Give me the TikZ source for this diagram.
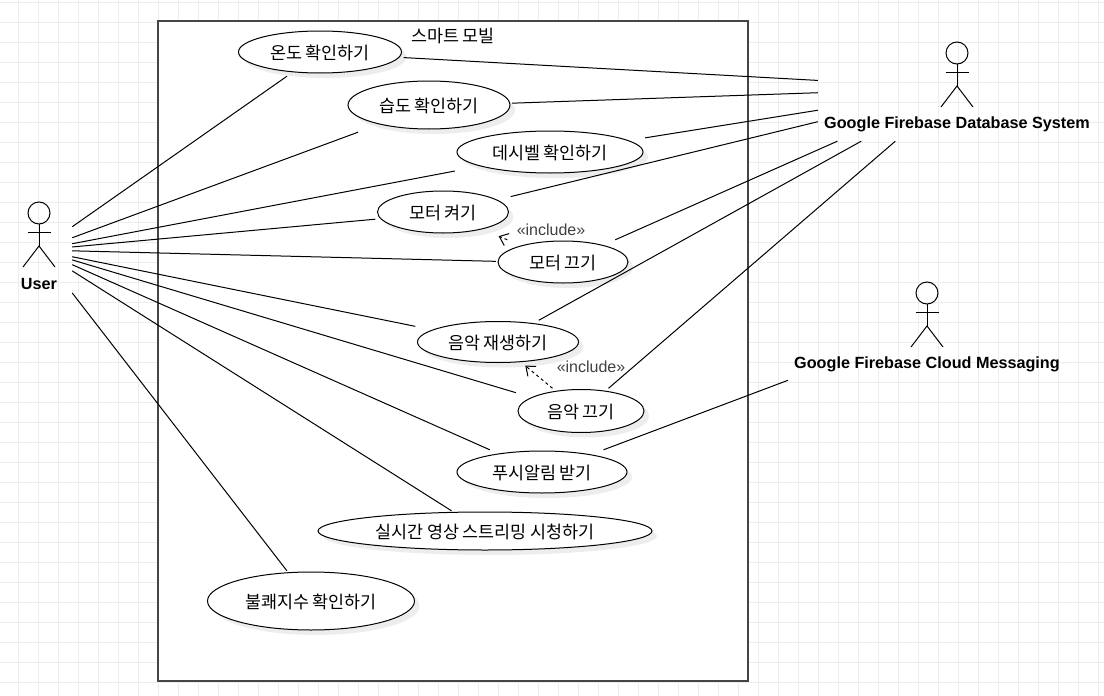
\documentclass[tikz,border=0pt]{standalone}
\usepackage{fontspec}
\usetikzlibrary{arrows.meta}
\usetikzlibrary{shadows}
\setmainfont{Liberation Sans}
\newfontfamily\krfont{Noto Sans CJK KR}
\definecolor{mgrid}{rgb}{0.93, 0.93, 0.93}
\definecolor{mframe}{rgb}{0.27, 0.27, 0.27}
\tikzset{
  casebox/.style = {inner sep = 0, font = \krfont\fontsize{17.4}{19}\selectfont},
  caseline/.style = {draw, fill = white, line width = 1pt,
    drop shadow = {shadow xshift = 5pt, shadow yshift = -5pt, opacity = 0.14}},
  actorbox/.style = {inner sep = 0, minimum width = 278, minimum height = 106},
  actorname/.style = {font = \bfseries\fontsize{16.2}{18}\selectfont},
  stick/.style = {line width = 1pt},
  assoc/.style = {line width = 1pt},
  incl/.style = {line width = 1pt, dashed, -{Straight Barb[length = 8pt, width = 13pt]}},
  stereo/.style = {text = black!75, font = \fontsize{16}{18}\selectfont}
}
\begin{document}
\begin{tikzpicture}[x=1pt, y=-1pt]
    \useasboundingbox (0, 0) rectangle (1104, 696);
    \foreach \x in {18,38,...,1098} {
      \draw [mgrid, line width=0.6pt] (\x, 0) -- (\x, 696);
    }
    \foreach \y in {2,22,...,682} {
      \draw [mgrid, line width=0.6pt] (0, \y) -- (1104, \y);
    }
    \draw [mframe, fill=white, line width=1.3pt] (158, 21) rectangle (748, 681);
    \node [inner sep=0, font=\krfont\fontsize{17.4}{19}\selectfont] (boxTitle) at (453, 36) {스마트 모빌};

    \foreach \n/\x/\y/\t in {user/39/248/User,
        firebaseDb/957/88/Google Firebase Database System,
        firebaseFcm/927/328/Google Firebase Cloud Messaging} {
      \begin{scope}[shift={(\x, \y)}]
        \draw [stick] (0, -35) circle (11);
        \draw [stick] (0, -24) -- (0, -2) (-11.5, -16) -- (11.5, -16);
        \draw [stick] (-16, 19) -- (0, -2) -- (16, 19);
        \node [actorname] (\n Name) at (0, 36.5) {\t};
      \end{scope}
      \node [actorbox] (\n) at (\x, \y) {};
    }
    % the user box is narrower than the other two
    \node [actorbox, minimum width=66] (user) at (39, 250) {};

    \foreach \n/\x/\y/\w/\h/\t in {temp/320/52/163/42/온도 확인하기,
        humid/429/105/162/48/습도 확인하기,
        decibel/550/152/186/42/데시벨 확인하기,
        motorOn/443/212/131/42/모터 켜기,
        motorOff/563/262/130/42/모터 끄기,
        musicOn/498/342/161/41/음악 재생하기,
        musicOff/581/411/126/43/음악 끄기,
        push/542/472/170/42/푸시알림 받기,
        stream/485/531/334/38/실시간 영상 스트리밍 시청하기,
        discomfort/311/601/207/58/불쾌지수 확인하기} {
      \draw [caseline] (\x, \y) ellipse ({\w / 2} and {\h / 2});
      \node [casebox, minimum width=\w + 4, minimum height=\h + 4] (\n) at (\x, \y + 1) {\t};
    }

    \foreach \c in {temp,humid,decibel,motorOn,motorOff,musicOn,musicOff,push,stream,discomfort} {
      \draw [assoc] (user) -- (\c);
    }
    \foreach \c in {temp,humid,decibel,motorOn,motorOff,musicOn,musicOff} {
      \draw [assoc] (\c) -- (firebaseDb);
    }
    \draw [assoc] (push) -- (firebaseFcm);

    \draw [incl] (motorOff) -- (motorOn);
    \draw [incl] (musicOff) -- (musicOn);
    \node [stereo] (motorIncl) at (551, 230) {«include»};
    \node [stereo] (musicIncl) at (591, 367) {«include»};
  \end{tikzpicture}
\end{document}
